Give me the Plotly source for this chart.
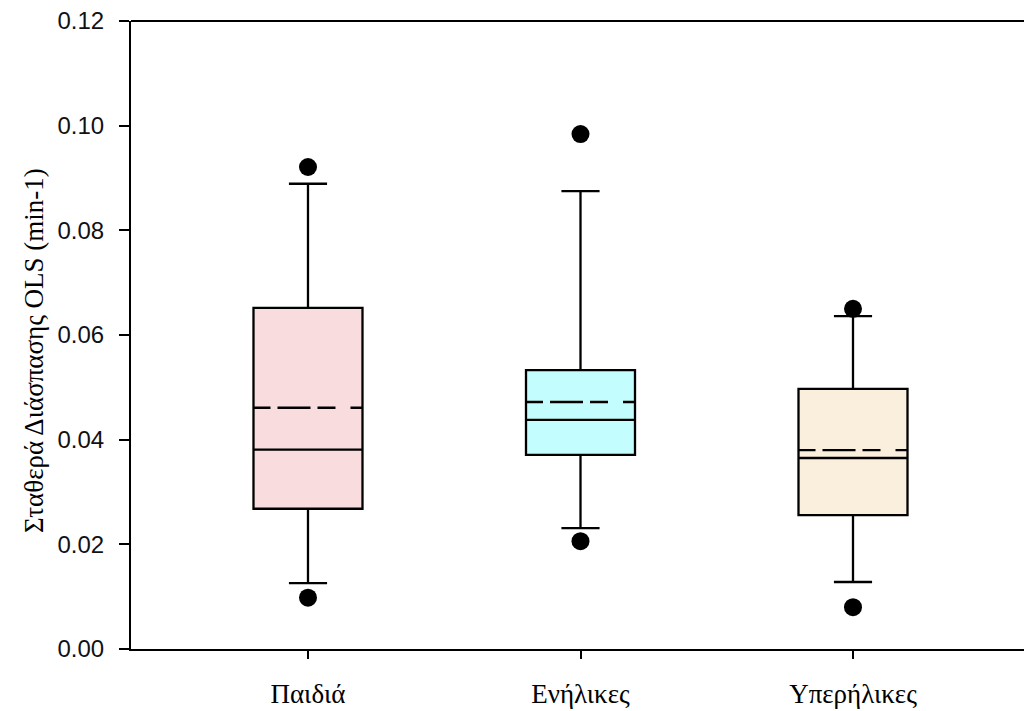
import plotly.graph_objects as go

# Group labels and summary statistics of the OLS decay constant (min-1)
categories = ["Παιδιά", "Ενήλικες", "Υπερήλικες"]
q1 = [0.0268, 0.0371, 0.0256]
median = [0.0381, 0.0438, 0.0365]
q3 = [0.0652, 0.0533, 0.0497]
mean = [0.0461, 0.0472, 0.0380]
lower_whisker = [0.0126, 0.0231, 0.0128]
upper_whisker = [0.0889, 0.0875, 0.0636]
outlier_high = [0.0921, 0.0984, 0.0650]
outlier_low = [0.0098, 0.0206, 0.0080]

y_ticks = [0.00, 0.02, 0.04, 0.06, 0.08, 0.10, 0.12]
fill_colors = ["#F9DDDE", "#C3FDFD", "#FAEEDC"]

BOX_WIDTH = 0.4
SERIF = "Liberation Serif, Times New Roman, serif"
SANS = "Liberation Sans, Arial, sans-serif"

fig = go.Figure()

positions = list(range(len(categories)))

for i, pos in enumerate(positions):
    fig.add_trace(go.Box(
        x=[pos],
        q1=[q1[i]], median=[median[i]], q3=[q3[i]],
        lowerfence=[lower_whisker[i]], upperfence=[upper_whisker[i]],
        width=BOX_WIDTH, whiskerwidth=0.35,
        fillcolor=fill_colors[i],
        line=dict(color="black", width=2.3),
        boxpoints=False, showlegend=False, hoverinfo="skip",
    ))
    # dashed mean line spanning the box
    fig.add_trace(go.Scatter(
        x=[pos - BOX_WIDTH / 2, pos + BOX_WIDTH / 2],
        y=[mean[i], mean[i]],
        mode="lines",
        line=dict(color="black", width=2.3, dash="17px,7px,33px,7px,18px,15px,13px"),
        showlegend=False, hoverinfo="skip",
    ))

# outlying points above and below the whiskers
fig.add_trace(go.Scatter(
    x=positions + positions,
    y=outlier_high + outlier_low,
    mode="markers",
    marker=dict(color="black", size=18),
    showlegend=False, hoverinfo="skip",
))

fig.update_layout(
    width=1024, height=711,
    margin=dict(l=131, r=0, t=21, b=62),
    paper_bgcolor="white", plot_bgcolor="white",
    xaxis=dict(
        range=[-0.6495, 2.6275],
        tickmode="array", tickvals=positions, ticktext=categories,
        ticks="outside", ticklen=8, tickwidth=2, tickcolor="black",
        showline=True, linecolor="black", linewidth=2,
        showgrid=False, zeroline=False,
        tickfont=dict(family=SERIF, size=27, color="black"),
        ticklabelstandoff=12,
    ),
    yaxis=dict(
        range=[0, 0.12],
        tickmode="array", tickvals=y_ticks,
        ticktext=[f"{v:.2f}" for v in y_ticks],
        ticks="outside", ticklen=10, tickwidth=2, tickcolor="black",
        showline=True, linecolor="black", linewidth=2,
        showgrid=False, zeroline=False,
        tickfont=dict(family=SANS, size=24, color="#111111"),
        ticklabelstandoff=10,
    ),
    shapes=[dict(
        type="line", xref="paper", yref="paper",
        x0=0, x1=1, y0=1, y1=1,
        line=dict(color="black", width=2),
    )],
    annotations=[dict(
        text="Σταθερά Διάσπασης OLS (min-1)",
        xref="paper", yref="paper", x=0, y=0.4745,
        xshift=-97, textangle=-90, showarrow=False,
        xanchor="center", yanchor="middle",
        font=dict(family=SERIF, size=27, color="black"),
    )],
)

fig.write_html("out.html")
